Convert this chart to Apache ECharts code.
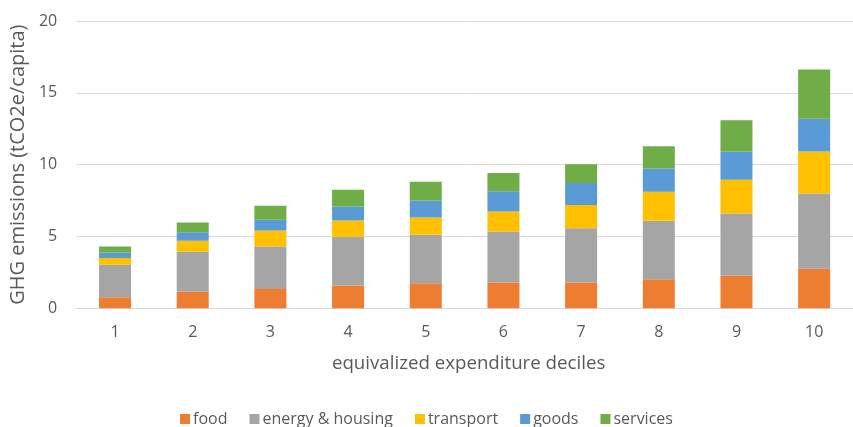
<!DOCTYPE html>
<html>
<head>
<meta charset="utf-8">
<script src="https://cdn.jsdelivr.net/npm/echarts@6/dist/echarts.min.js"></script>
<style>html,body{margin:0;padding:0;background:#fff;}#c{width:853px;height:427px;}</style>
</head>
<body>
<div id="c"></div>
<script>
const categories = ['1','2','3','4','5','6','7','8','9','10'];
const food      = [0.77, 1.16, 1.35, 1.58, 1.74, 1.79, 1.79, 2.02, 2.27, 2.76];
const energy    = [2.27, 2.77, 2.95, 3.40, 3.38, 3.56, 3.79, 4.07, 4.33, 5.24];
const transport = [0.47, 0.77, 1.12, 1.13, 1.20, 1.39, 1.61, 2.03, 2.35, 2.91];
const goods     = [0.37, 0.60, 0.74, 0.98, 1.19, 1.40, 1.53, 1.62, 1.96, 2.28];
const services  = [0.42, 0.67, 0.98, 1.17, 1.30, 1.28, 1.30, 1.54, 2.18, 3.44];
const yTicks = [0, 5, 10, 15, 20];

const FONT = 'Open Sans';
const TXT = '#595959';
const chart = echarts.init(document.getElementById('c'), null, {renderer: 'canvas'});
function s(name, data, color) {
  return {name, type: 'bar', stack: 'total', data, barWidth: 32, itemStyle: {color}, emphasis: {disabled: true}};
}
chart.setOption({
  animation: false,
  textStyle: {fontFamily: FONT},
  grid: {left: 74, right: -12, top: 21, bottom: 118.7, containLabel: false},
  legend: {
    top: 406, left: 'center',
    itemWidth: 10, itemHeight: 10, itemGap: 22,
    icon: 'rect',
    textStyle: {fontFamily: FONT, fontSize: 16, color: TXT, padding: [0,0,0,-2]},
    data: ['food','energy & housing','transport','goods','services']
  },
  xAxis: {
    type: 'category', data: categories,
    name: 'equivalized expenditure deciles', nameLocation: 'middle', nameGap: 46,
    nameTextStyle: {fontFamily: FONT, fontSize: 18.7, color: TXT, padding: [0,0,0,8]},
    axisLine: {lineStyle: {color: '#D9D9D9', width: 1}},
    axisTick: {show: false},
    axisLabel: {fontFamily: FONT, fontSize: 16, color: TXT, margin: 16}
  },
  yAxis: {
    type: 'value', min: yTicks[0], max: yTicks[yTicks.length-1], interval: 5,
    name: 'GHG emissions (tCO2e/capita)', nameLocation: 'middle', nameGap: 43,
    nameTextStyle: {fontFamily: FONT, fontSize: 20, color: TXT},
    axisLine: {show: false}, axisTick: {show: false},
    axisLabel: {fontFamily: FONT, fontSize: 16, color: TXT, margin: 19},
    splitLine: {lineStyle: {color: '#D9D9D9', width: 1}}
  },
  series: [
    s('food', food, '#ED7D31'),
    s('energy & housing', energy, '#A5A5A5'),
    s('transport', transport, '#FFC000'),
    s('goods', goods, '#5B9BD5'),
    s('services', services, '#70AD47')
  ]
});
</script>
</body>
</html>
